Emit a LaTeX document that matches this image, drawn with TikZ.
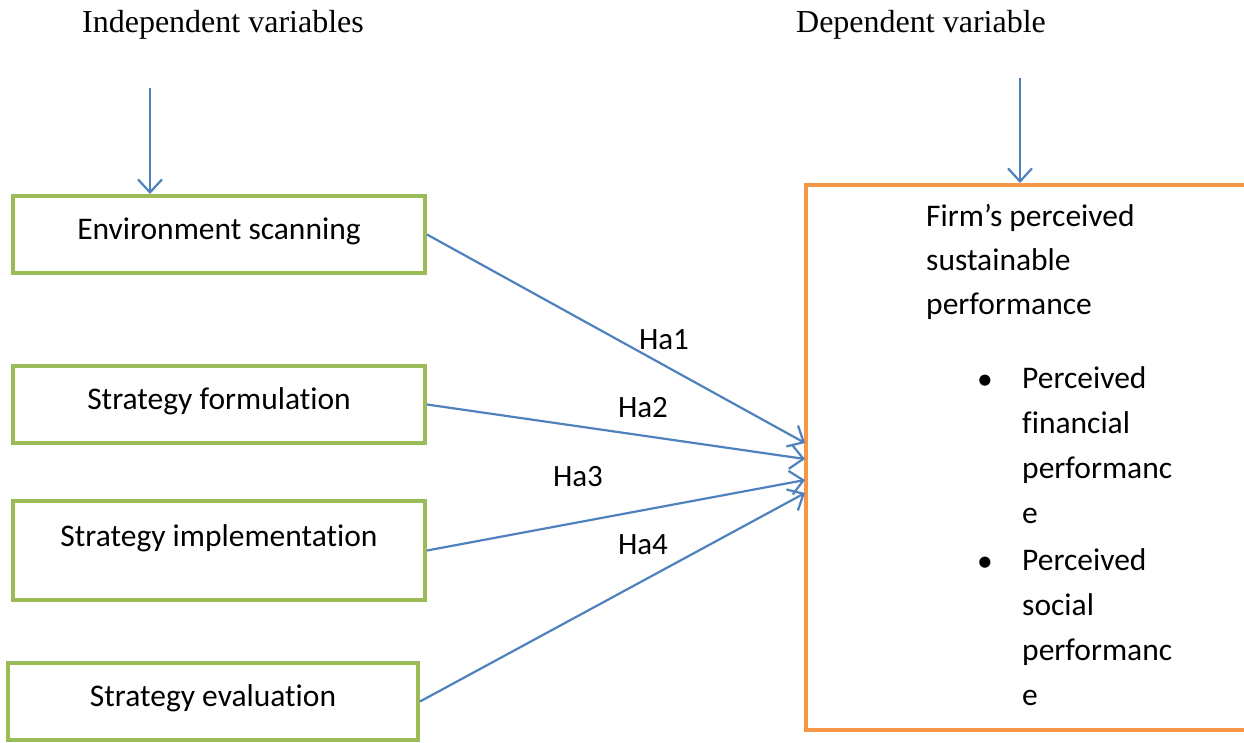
\documentclass[tikz,border=0pt]{standalone}
\usepackage{fontspec}
\setmainfont[Ligatures=NoCommon]{Carlito}
\newfontfamily\headfont{Liberation Serif}
\usetikzlibrary{arrows.meta}
\definecolor{boxgreen}{HTML}{9BBB59}
\definecolor{boxorange}{HTML}{F79646}
\definecolor{linkblue}{HTML}{4F81BD}
\begin{document}
\begin{tikzpicture}[x=1pt, y=-1pt,
    ivbox/.style={draw=boxgreen, line width=4pt, minimum width=412pt, inner xsep=0pt,
      inner ysep=0pt, text height=43pt, text depth=34pt, anchor=base,
      font=\fontsize{31.5}{36}\selectfont},
    link/.style={linkblue, line width=2.2pt,
      -{Straight Barb[length=13pt, width=24pt, line width=2.2pt]}},
    hyp/.style={font=\fontsize{31}{36}\selectfont},
    head/.style={font=\headfont\fontsize{32}{36}\selectfont},
    body/.style={anchor=north west, align=left, inner sep=0pt}]
    \useasboundingbox (0,0) rectangle (1244,742);
    \node[head] (ivs) at (223,25) {Independent variables};
    \node[head] (dvs) at (921,25) {Dependent variable};
    \node[ivbox] (scan) at (219,239) {Environment scanning};
    \node[ivbox] (form) at (219,409) {Strategy formulation};
    \node[ivbox, text height=45pt, text depth=54pt] (impl) at (219,546) {Strategy implementation};
    \node[ivbox, minimum width=410pt] (eval) at (213,706) {Strategy evaluation};
    \node[draw=boxorange, line width=4pt, minimum width=444pt, minimum height=545pt,
      inner sep=0pt] (perf) at (1028,457.5) {};
    \node[body, font=\fontsize{31.5}{44}\selectfont] (firm) at (926,204)
      {Firm’s perceived\\sustainable\\performance};
    \node[anchor=base, font=\fontsize{31.5}{36}\selectfont] (dot1) at (985,389) {\textbullet};
    \node[body, font=\fontsize{31.5}{45}\selectfont] (fin) at (1022,366)
      {Perceived\\financial\\performanc\\e};
    \node[anchor=base, font=\fontsize{31.5}{36}\selectfont] (dot2) at (985,571) {\textbullet};
    \node[body, font=\fontsize{31.5}{45}\selectfont] (soc) at (1022,548)
      {Perceived\\social\\performanc\\e};
    \coordinate (ivtop) at (150,88);
    \coordinate (dvtop) at (1020,78);
    \coordinate (t1) at (805,443);
    \coordinate (t2) at (805,459);
    \coordinate (t3) at (805,480);
    \coordinate (t4) at (805,493);
    \draw[link] (ivtop) -- (ivtop |- scan.north);
    \draw[link] (dvtop) -- (dvtop |- perf.north);
    \draw[link] (scan.east) -- (t1);
    \draw[link] (form.east) -- (t2);
    \draw[link] (impl.east) -- (t3);
    \draw[link] (eval.east) -- (t4);
    \node[hyp] (ha1) at (664,340) {Ha1};
    \node[hyp] (ha2) at (643,408) {Ha2};
    \node[hyp] (ha3) at (578,477) {Ha3};
    \node[hyp] (ha4) at (643,545) {Ha4};
  \end{tikzpicture}
\end{document}
